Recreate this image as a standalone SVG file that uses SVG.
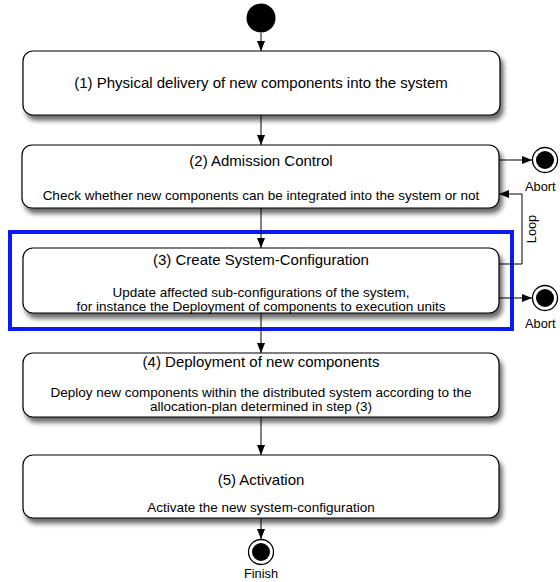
<svg xmlns="http://www.w3.org/2000/svg" width="560" height="582" viewBox="0 0 560 582">
  <defs>
    <filter id="shadow" x="-5%" y="-10%" width="115%" height="135%">
      <feGaussianBlur in="SourceAlpha" stdDeviation="2.5"/>
      <feOffset dx="3" dy="5" result="blur"/>
      <feComponentTransfer><feFuncA type="linear" slope="0.6"/></feComponentTransfer>
      <feMerge><feMergeNode/><feMergeNode in="SourceGraphic"/></feMerge>
    </filter>
    <marker id="arrow" viewBox="0 0 10 8" refX="10" refY="4" markerWidth="10" markerHeight="8" markerUnits="userSpaceOnUse" orient="auto">
      <path d="M0,0 L10,4 L0,8 z" fill="#000"/>
    </marker>
  </defs>
  <style>
    .box { fill: #fff; stroke: #000; stroke-width: 1.2; filter: url(#shadow); }
    .edge { fill: none; stroke: #000; stroke-width: 1; marker-end: url(#arrow); }
    .title { font-family: "Liberation Sans", Arial, sans-serif; font-size: 15px; text-anchor: middle; fill: #000; }
    .desc { font-family: "Liberation Sans", Arial, sans-serif; font-size: 13.5px; text-anchor: middle; fill: #000; }
    .lbl { font-family: "Liberation Sans", Arial, sans-serif; font-size: 12.8px; fill: #000; }
  </style>
  <rect width="560" height="582" fill="#fff"/>

  <!-- highlight frame around step 3 -->
  <rect id="highlight" x="10" y="232" width="502" height="97" fill="none" stroke="#0a1cf5" stroke-width="4"/>

  <g id="connectors">
    <line class="edge" x1="261" y1="33" x2="261" y2="51"/>
    <line class="edge" x1="261" y1="115" x2="261" y2="145"/>
    <line class="edge" x1="261" y1="208" x2="261" y2="248"/>
    <line class="edge" x1="261" y1="313" x2="261" y2="353"/>
    <line class="edge" x1="261" y1="417" x2="261" y2="455"/>
    <line class="edge" x1="261" y1="518" x2="261" y2="539"/>
    <line class="edge" x1="499" y1="160" x2="532" y2="160"/>
    <line class="edge" x1="499" y1="298" x2="532" y2="298"/>
    <polyline class="edge" points="499,264 522,264 522,194 499,194"/>
    <text class="lbl" transform="translate(536,229) rotate(-90)" text-anchor="middle">Loop</text>
  </g>

  <g id="start">
    <circle cx="261" cy="18" r="14.5" fill="#000"/>
  </g>

  <g id="step1">
    <rect class="box" x="23" y="51" width="477" height="64" rx="10"/>
    <text class="title" x="261" y="88">(1) Physical delivery of new components into the system</text>
  </g>

  <g id="step2">
    <rect class="box" x="22" y="145" width="477" height="63" rx="10"/>
    <text class="title" x="261" y="166">(2) Admission Control</text>
    <text class="desc" x="261" y="200">Check whether new components can be integrated into the system or not</text>
  </g>

  <g id="step3">
    <rect class="box" x="23" y="248" width="476" height="65" rx="10"/>
    <text class="title" x="261" y="265">(3) Create System-Configuration</text>
    <text class="desc" x="261" y="297" font-size="14.2px">Update affected sub-configurations of the system,</text>
    <text class="desc" x="261" y="311" font-size="14.2px">for instance the Deployment of components to execution units</text>
  </g>

  <g id="step4">
    <rect class="box" x="23" y="353" width="476" height="64" rx="10"/>
    <text class="title" x="261" y="367">(4) Deployment of new components</text>
    <text class="desc" x="261" y="397" font-size="13.8px">Deploy new components within the distributed system according to the</text>
    <text class="desc" x="261" y="411" font-size="13.8px">allocation-plan determined in step (3)</text>
  </g>

  <g id="step5">
    <rect class="box" x="23" y="455" width="476" height="63" rx="10"/>
    <text class="title" x="261" y="485">(5) Activation</text>
    <text class="desc" x="261" y="512">Activate the new system-configuration</text>
  </g>

  <g id="abort1">
    <circle cx="545" cy="160" r="12.5" fill="#fff" stroke="#000" stroke-width="1.3"/>
    <circle cx="545" cy="160" r="9" fill="#000"/>
    <text class="lbl" x="525" y="191">Abort</text>
  </g>

  <g id="abort2">
    <circle cx="545" cy="298" r="12.5" fill="#fff" stroke="#000" stroke-width="1.3"/>
    <circle cx="545" cy="298" r="9" fill="#000"/>
    <text class="lbl" x="525" y="328">Abort</text>
  </g>

  <g id="finish">
    <circle cx="261" cy="552" r="12.5" fill="#fff" stroke="#000" stroke-width="1.3"/>
    <circle cx="261" cy="552" r="9" fill="#000"/>
    <text class="lbl" x="261" y="578" text-anchor="middle">Finish</text>
  </g>
</svg>
